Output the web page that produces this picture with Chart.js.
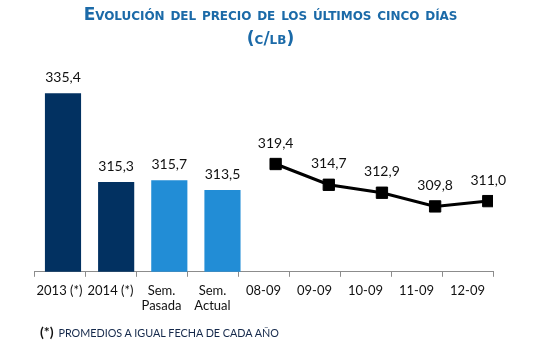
<!DOCTYPE html>
<html>
<head>
<meta charset="utf-8">
<script src="https://cdn.jsdelivr.net/npm/chart.js@4/dist/chart.umd.min.js"></script>
<style>
  html, body { margin: 0; padding: 0; background: #fff; }
  #wrap { position: relative; width: 547px; height: 360px; overflow: hidden; }
  #c { position: absolute; left: 0; top: 0; }
  .title { position: absolute; left: 0; width: 541px; text-align: center; font-family: "DejaVu Sans", sans-serif; font-weight: bold; color: #1b6aa8; font-variant: small-caps; white-space: nowrap; }
  #t1 { top: 4px; font-size: 17px; letter-spacing: -0.05px; }
  #t2 { top: 28px; font-size: 17px; }
  #foot { position: absolute; left: 40px; top: 323px; font-family: Lato, "Open Sans", sans-serif; font-size: 10.8px; color: #14284a; white-space: nowrap; }
  #foot b { font-size: 14px; font-weight: bold; color: #111; margin-right: 2px; }
</style>
</head>
<body>
<div id="wrap">
  <canvas id="c" width="547" height="360"></canvas>
  <div class="title" id="t1">Evolución del precio de los últimos cinco días</div>
  <div class="title" id="t2">(c/lb)</div>
  <div id="foot"><b>(*)</b> PROMEDIOS A IGUAL FECHA DE CADA AÑO</div>
</div>
<script>
const categories = [["2013 (*)"], ["2014 (*)"], ["Sem.", "Pasada"], ["Sem.", "Actual"], ["08-09"], ["09-09"], ["10-09"], ["11-09"], ["12-09"]];
const barValues = [335.4, 315.3, 315.7, 313.5, null, null, null, null, null];
const lineValues = [null, null, null, null, 319.4, 314.7, 312.9, 309.8, 311.0];
const barColors = ["#023161", "#023161", "#228dd6", "#228dd6"];

const fmt = v => v.toFixed(1).replace('.', ',');

// points keyed by category index (data plotted on a hidden linear index axis,
// which in the original is slightly out of step with the labelled axis)
const toPoints = arr => arr.map((v, i) => ({ x: i, y: v })).filter(p => p.y !== null);

const labelPlugin = {
  id: 'valueLabels',
  afterDatasetsDraw(chart) {
    const ctx = chart.ctx;
    ctx.save();
    ctx.font = '14px Lato, "Open Sans", sans-serif';
    ctx.fillStyle = '#111';
    ctx.textAlign = 'center';
    ctx.textBaseline = 'middle';
    chart.data.datasets.forEach((ds, di) => {
      const meta = chart.getDatasetMeta(di);
      const off = ds.type === 'line' ? 21 : 16;
      meta.data.forEach((el, i) => {
        const p = ds.data[i];
        if (!p || p.y === null) return;
        ctx.fillText(fmt(p.y), el.x, el.y - off);
      });
    });
    ctx.restore();
  }
};

new Chart(document.getElementById('c'), {
  data: {
    labels: categories,
    datasets: [
      {
        type: 'bar',
        xAxisID: 'xd',
        data: toPoints(barValues),
        backgroundColor: barColors,
        categoryPercentage: 1,
        barPercentage: 0.68,
        order: 2
      },
      {
        type: 'line',
        xAxisID: 'xd',
        data: toPoints(lineValues),
        borderColor: '#000',
        backgroundColor: '#000',
        borderWidth: 3,
        pointStyle: 'rect',
        pointRadius: 8,
        pointBorderWidth: 1,
        pointBackgroundColor: '#000',
        pointBorderColor: '#000',
        tension: 0,
        order: 1
      }
    ]
  },
  options: {
    responsive: false,
    animation: false,
    layout: { padding: { top: 73, left: 34, right: 54, bottom: 40 } },
    plugins: { legend: { display: false }, tooltip: { enabled: false } },
    scales: {
      x: {
        type: 'category',
        offset: true,
        grid: { offset: true, drawOnChartArea: false, drawTicks: true, tickLength: 5, color: '#8c8c8c' },
        border: { display: true, color: '#8c8c8c', width: 1 },
        ticks: { color: '#111', font: { family: 'Lato, "Open Sans", sans-serif', size: 13 }, padding: 6, maxRotation: 0, autoSkip: false }
      },
      xd: {
        type: 'linear',
        position: 'bottom',
        display: false,
        offset: false,
        grid: { offset: false },
        min: -0.5455,
        max: 8.089
      },
      y: {
        display: false,
        min: 295,
        max: 340
      }
    }
  },
  plugins: [labelPlugin]
});
</script>
</body>
</html>
